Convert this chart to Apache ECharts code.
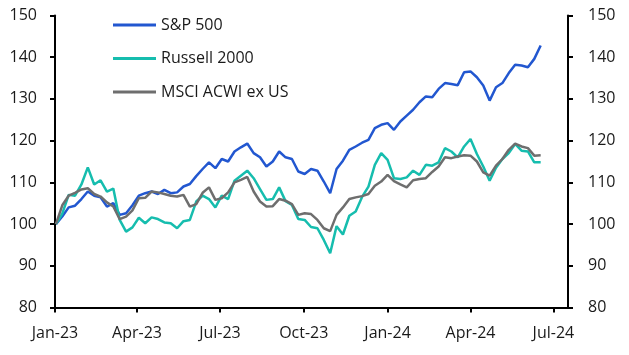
<!DOCTYPE html>
<html>
<head>
<meta charset="utf-8">
<script src="https://cdn.jsdelivr.net/npm/echarts@6/dist/echarts.min.js"></script>
<style>html,body{margin:0;padding:0;background:#fff}#c{width:629px;height:355px}</style>
</head>
<body>
<div id="c"></div>
<script>
// Weekly observations starting Monday 2 Jan 2023 (index 0), one per week
var startDate = '2023-01-02';
var seriesNames = ['S&P 500', 'Russell 2000', 'MSCI ACWI ex US'];
var sp500 = [100,101.8,104,104.4,106,107.8,106.8,106.4,104.2,105,102.2,102.6,104.5,106.8,107.4,107.8,107.2,108.2,107.4,107.6,
  109,109.6,111.5,113.2,114.8,113.4,115.6,115,117.4,118.4,119.3,117,116,113.8,115,117.4,116,115.6,112.6,112,
  113.2,112.8,110.2,107.4,113.2,115.2,117.8,118.6,119.5,120.2,123,123.8,124.2,122.6,124.6,126,127.4,129.2,130.6,130.4,
  132.4,133.8,133.6,133.3,136.4,136.6,135.2,133.2,129.6,132.8,133.8,136.2,138.2,138,137.6,139.6,142.8];
var russell2000 = [100,102.5,107,106.8,109.5,113.6,109.5,110.5,107.8,108.5,101,98.2,99.2,101.5,100.2,101.6,101.2,100.4,100.2,99,
  100.7,101,105.4,106.8,106,104,106.8,106,110.4,111.6,112.8,111,108.4,105.8,106,108.8,105.5,104.6,101.2,101,
  99.3,99,96.2,93,99.5,97.5,102,103,106.5,109,114.2,117,115.4,111,110.8,111.2,112.8,111.8,114.2,114,
  114.8,118.2,117.4,116,118.6,120.4,116.8,113.8,110.4,113.5,115.6,117,119.2,117.6,117.4,114.8,114.8];
var msciAcwiExUs = [100,104.5,106.8,107.5,108.3,108.6,107.2,106.6,105.2,104.2,101.2,101.8,103.3,106.2,106.3,107.8,107.6,107.2,106.8,106.6,
  107,104.2,104.8,107.5,108.8,105.8,106.2,107.6,110,110.6,111.3,107.8,105.4,104.2,104.3,106,105.6,104.8,102.2,102.6,
  102.4,101,99,98.3,102.2,104,106,106.4,106.7,107.2,109.2,110.2,111.8,110.3,109.5,108.8,110.5,110.8,111,112.5,
  113.8,116,115.8,116.2,116.5,116.4,115,112.4,111.6,114,115.6,117.8,119.3,118.6,118.2,116.4,116.5];
var xTickDates = ['2023-01-01','2023-04-01','2023-07-01','2023-10-01','2024-01-01','2024-04-01','2024-07-01'];
var xMin = '2023-01-01', xMax = '2024-07-17';
var yMin = 80, yMax = 150, yStep = 10;

function utc(s){var p=s.split('-');return Date.UTC(+p[0],+p[1]-1,+p[2]);}
var DAY = 86400000;
var t0 = utc(startDate);
function pair(arr){return arr.map(function(v,i){return [t0 + i*7*DAY, v];});}
var months = ['Jan','Feb','Mar','Apr','May','Jun','Jul','Aug','Sep','Oct','Nov','Dec'];
var tickVals = xTickDates.map(utc);
var FONT = 'Open Sans';
var colors = ['#2257D0','#16BDAE','#6E6E6E'];

var chart = echarts.init(document.getElementById('c'), null, {renderer:'canvas'});
var yAxisBase = function(pos, margin){
  return {type:'value', position:pos, min:yMin, max:yMax, interval:yStep,
    splitLine:{show:false},
    axisLine:{show:true, lineStyle:{color:'#000', width:2}},
    axisTick:{show:true, inside:false, length:5, lineStyle:{color:'#000', width:2}},
    axisLabel:{color:'#1a1a1a', fontFamily:FONT, fontSize:16, margin:margin}};
};
chart.setOption({
  animation:false,
  backgroundColor:'#fff',
  grid:{left:55, right:61, top:15.5, bottom:47.5, containLabel:false},
  legend:{orient:'vertical', left:108, top:10, itemWidth:43, itemHeight:3, icon:'rect', itemGap:13.5,
    textStyle:{fontFamily:FONT, fontSize:16, color:'#1a1a1a', lineHeight:20},
    data:seriesNames},
  xAxis:{type:'value', min:utc(xMin), max:utc(xMax), scale:true,
    splitLine:{show:false},
    axisLine:{show:true, onZero:false, lineStyle:{color:'#000', width:2}},
    axisTick:{show:true, length:5, customValues:tickVals, lineStyle:{color:'#000', width:2}},
    axisLabel:{customValues:tickVals, color:'#1a1a1a', fontFamily:FONT, fontSize:16, margin:18,
      formatter:function(v){var d=new Date(v);return months[d.getUTCMonth()]+'-'+String(d.getUTCFullYear()).slice(2);}}},
  yAxis:[yAxisBase('left',18), yAxisBase('right',20)],
  series:[
    {name:seriesNames[0], type:'line', data:pair(sp500), showSymbol:false, symbol:'none', color:colors[0], lineStyle:{width:2.5}},
    {name:seriesNames[1], type:'line', data:pair(russell2000), showSymbol:false, symbol:'none', color:colors[1], lineStyle:{width:2.5}},
    {name:seriesNames[2], type:'line', data:pair(msciAcwiExUs), showSymbol:false, symbol:'none', color:colors[2], lineStyle:{width:2.5}}
  ]
});
</script>
</body>
</html>
